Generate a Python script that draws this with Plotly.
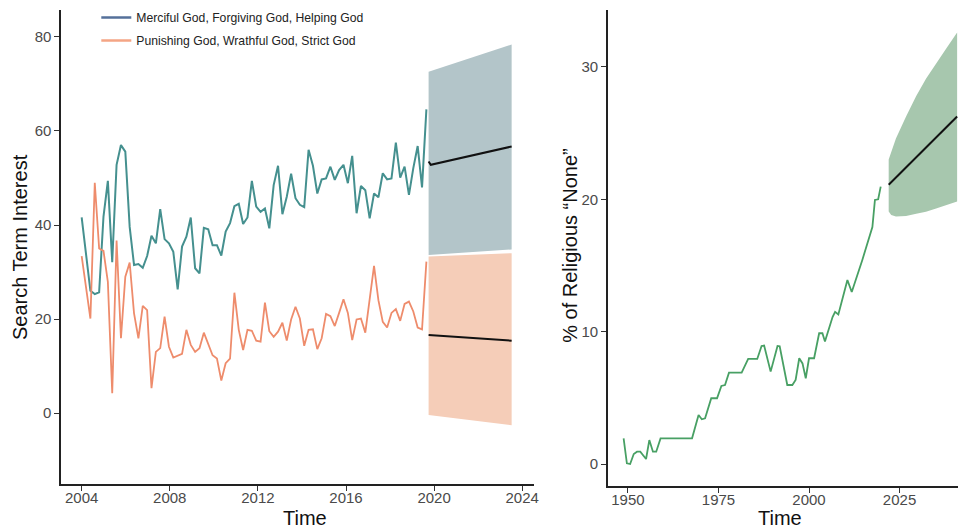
import plotly.graph_objects as go

W, H = 958, 529          # target picture size (layout is expressed in these pixels)
FIG_W = 966              # rendered width (compensates the horizontal squeeze seen in the capture)

# ---------------- Left panel data (search term interest) ----------------
n_pts = 80
step = 15.65 / 79
search_time = [2004 + step * i for i in range(n_pts)]

merciful = [41.6, 34.0, 26.0, 25.3, 25.7, 41.8, 49.4, 32.1, 52.8, 57.0,
            55.6, 39.6, 31.5, 31.7, 30.9, 33.4, 37.7, 36.1, 43.4, 37.0,
            36.1, 34.3, 26.3, 35.4, 37.5, 41.6, 30.8, 29.7, 39.4, 39.1,
            35.7, 35.7, 33.5, 38.6, 40.4, 44.0, 44.5, 40.2, 41.6, 49.4,
            43.9, 42.8, 43.5, 39.3, 48.5, 52.6, 42.3, 46.0, 50.9, 45.7,
            44.3, 43.8, 56.0, 52.6, 46.7, 49.7, 49.9, 52.4, 49.6, 51.7,
            52.8, 48.9, 54.7, 42.5, 48.3, 47.4, 41.4, 46.7, 45.9, 51.0,
            49.7, 49.9, 57.5, 50.1, 52.4, 46.4, 52.1, 56.8, 48.0, 64.6]

punishing = [33.4, 27.0, 20.1, 49.0, 35.0, 34.5, 27.9, 4.2, 36.7, 15.9,
             29.0, 32.0, 21.2, 15.9, 22.8, 21.9, 5.3, 13.0, 13.8, 20.5,
             14.1, 11.8, 12.2, 12.6, 17.7, 14.5, 13.0, 13.8, 17.1, 14.5,
             12.3, 11.6, 6.9, 10.6, 11.6, 25.6, 17.7, 13.4, 17.7, 17.5,
             15.4, 15.2, 23.5, 17.4, 16.2, 17.3, 19.2, 15.4, 19.9, 22.6,
             20.1, 14.3, 17.7, 17.8, 13.6, 15.9, 21.1, 20.6, 18.5, 21.3,
             24.2, 21.3, 15.5, 19.9, 20.1, 17.1, 24.0, 31.3, 24.0, 19.4,
             18.2, 21.3, 22.1, 19.6, 23.2, 23.7, 21.6, 18.2, 17.8, 32.2]

fc_time = [2019.75, 2023.52]
merciful_hi = [72.6, 78.4]
merciful_lo = [33.6, 34.8]
punishing_hi = [33.3, 34.0]
punishing_lo = [-0.4, -2.6]

fc_line_time = [2019.75, 2019.85, 2023.52]
merciful_fc = [53.5, 52.8, 56.7]
punishing_fc_time = [2019.75, 2023.52]
punishing_fc = [16.6, 15.4]

# ---------------- Right panel data (% religious none) ----------------
none_year = [1948.8, 1949.7, 1950.6, 1951.6, 1952.5, 1953.4, 1955.0, 1955.9,
             1956.9, 1957.8, 1959.0, 1967.7, 1969.5, 1970.4, 1971.3, 1973.0,
             1974.6, 1975.8, 1976.8, 1977.9, 1981.4, 1983.2, 1985.7, 1986.9,
             1987.6, 1989.4, 1991.3, 1991.9, 1994.0, 1995.4, 1996.3, 1997.3,
             1998.2, 1999.1, 2000.0, 2001.4, 2002.8, 2003.7, 2004.4, 2006.5,
             2007.2, 2008.1, 2010.6, 2011.8, 2014.7, 2017.5, 2018.2, 2019.1,
             2019.8]
none_pct = [1.94, 0.05, 0.0, 0.76, 0.93, 0.93, 0.38, 1.81,
            0.93, 0.93, 1.94, 1.94, 3.7, 3.38, 3.45, 4.97,
            4.97, 5.9, 5.97, 6.9, 6.9, 7.94, 7.94, 8.92,
            8.95, 6.98, 8.92, 8.9, 5.97, 5.97, 6.35, 7.99,
            7.6, 6.48, 7.99, 7.99, 9.88, 9.88, 9.25, 11.1,
            11.5, 11.3, 13.9, 13.0, 15.4, 17.9, 19.95, 20.0,
            20.96]

none_fc_time = [2022.0, 2022.7, 2024.0, 2026.8, 2029.6, 2032.3, 2035.1, 2037.9, 2040.9]
none_hi = [23.0, 23.6, 24.6, 26.25, 27.8, 29.1, 30.3, 31.4, 32.6]
none_lo = [19.07, 18.82, 18.7, 18.74, 18.9, 19.05, 19.3, 19.55, 19.83]
none_fc_line_time = [2022.0, 2040.9]
none_fc = [21.1, 26.25]

# ---------------- styles ----------------
TEAL = "#45908f"
ORANGE = "#ee8c6c"
TEAL_BAND = "#b3c5c9"
ORANGE_BAND = "#f5cdb8"
GREEN = "#48a064"
GREEN_BAND = "#a7c7ae"
LEG_BLUE = "#55709a"
LEG_ORANGE = "#f4a585"
FONT = "Liberation Sans, Arial, sans-serif"

fig = go.Figure()

# Bands (left)
fig.add_trace(go.Scatter(x=fc_time, y=merciful_lo, mode="lines", line=dict(width=0),
                         showlegend=False, hoverinfo="skip", xaxis="x", yaxis="y"))
fig.add_trace(go.Scatter(x=fc_time, y=merciful_hi, mode="lines", line=dict(width=0),
                         fill="tonexty", fillcolor=TEAL_BAND, showlegend=False,
                         hoverinfo="skip", xaxis="x", yaxis="y"))
fig.add_trace(go.Scatter(x=fc_time, y=punishing_lo, mode="lines", line=dict(width=0),
                         showlegend=False, hoverinfo="skip", xaxis="x", yaxis="y"))
fig.add_trace(go.Scatter(x=fc_time, y=punishing_hi, mode="lines", line=dict(width=0),
                         fill="tonexty", fillcolor=ORANGE_BAND, showlegend=False,
                         hoverinfo="skip", xaxis="x", yaxis="y"))

# Lines (left)
fig.add_trace(go.Scatter(x=search_time, y=merciful, mode="lines",
                         line=dict(color=TEAL, width=2), showlegend=False,
                         xaxis="x", yaxis="y"))
fig.add_trace(go.Scatter(x=search_time, y=punishing, mode="lines",
                         line=dict(color=ORANGE, width=1.8), showlegend=False,
                         xaxis="x", yaxis="y"))
fig.add_trace(go.Scatter(x=fc_line_time, y=merciful_fc, mode="lines",
                         line=dict(color="#111111", width=2), showlegend=False,
                         xaxis="x", yaxis="y"))
fig.add_trace(go.Scatter(x=punishing_fc_time, y=punishing_fc, mode="lines",
                         line=dict(color="#111111", width=2), showlegend=False,
                         xaxis="x", yaxis="y"))

# Legend entries
fig.add_trace(go.Scatter(x=[None], y=[None], mode="lines", name="Merciful God, Forgiving God, Helping God",
                         legendgroup="a", legendrank=1,
                         line=dict(color=LEG_BLUE, width=2.5), xaxis="x", yaxis="y"))
fig.add_trace(go.Scatter(x=[None], y=[None], mode="lines", name="Punishing God, Wrathful God, Strict God",
                         legendgroup="b", legendrank=2,
                         line=dict(color=LEG_ORANGE, width=2.5), xaxis="x", yaxis="y"))

# Right panel
fig.add_trace(go.Scatter(x=none_fc_time, y=none_lo, mode="lines", line=dict(width=0),
                         showlegend=False, hoverinfo="skip", xaxis="x2", yaxis="y2"))
fig.add_trace(go.Scatter(x=none_fc_time, y=none_hi, mode="lines", line=dict(width=0),
                         fill="tonexty", fillcolor=GREEN_BAND, showlegend=False,
                         hoverinfo="skip", xaxis="x2", yaxis="y2"))
fig.add_trace(go.Scatter(x=none_year, y=none_pct, mode="lines",
                         line=dict(color=GREEN, width=1.8), showlegend=False,
                         xaxis="x2", yaxis="y2"))
fig.add_trace(go.Scatter(x=none_fc_line_time, y=none_fc, mode="lines",
                         line=dict(color="#111111", width=2), showlegend=False,
                         xaxis="x2", yaxis="y2"))

ax_common = dict(showgrid=False, zeroline=False, showline=True, linecolor="#222222",
                 linewidth=1.5, ticks="outside", ticklen=5, tickcolor="#333333",
                 tickfont=dict(family=FONT, size=15, color="#4a4a4a"))

y_bot_l = 1 - 484 / H
y_bot_r = 1 - 486 / H
y_top = 1 - 10 / H

fig.update_layout(
    width=FIG_W, height=H,
    margin=dict(l=0, r=0, t=0, b=0),
    paper_bgcolor="white", plot_bgcolor="white",
    font=dict(family=FONT),
    xaxis=dict(domain=[61 / W, 532 / W], range=[2003.07, 2024.52],
               tickvals=[2004, 2008, 2012, 2016, 2020, 2024], anchor="y",
               ticklabelstandoff=-6, **ax_common),
    yaxis=dict(domain=[y_bot_l, y_top], range=[-15.1, 85.74],
               tickvals=[0, 20, 40, 60, 80], anchor="x", **ax_common),
    xaxis2=dict(domain=[606 / W, 1.0], range=[1944.46, 2041.97],
                tickvals=[1950, 1975, 2000, 2025], anchor="y2",
                ticklabelstandoff=-6, **ax_common),
    yaxis2=dict(domain=[y_bot_r, y_top], range=[-1.66, 34.3],
                tickvals=[0, 10, 20, 30], anchor="x2", **ax_common),
    showlegend=True,
    legend=dict(x=96 / W, y=1 - 3 / H, xanchor="left", yanchor="top",
                traceorder="grouped", bgcolor="rgba(0,0,0,0)",
                font=dict(family=FONT, size=12.2, color="#222222"),
                itemwidth=30, tracegroupgap=4),
    annotations=[
        dict(text="Time", x=304 / W, y=1 - 518 / H, xref="paper", yref="paper",
             showarrow=False, font=dict(family=FONT, size=20, color="#111111"),
             xanchor="center", yanchor="middle"),
        dict(text="Time", x=778 / W, y=1 - 518 / H, xref="paper", yref="paper",
             showarrow=False, font=dict(family=FONT, size=20, color="#111111"),
             xanchor="center", yanchor="middle"),
        dict(text="Search Term Interest", x=20 / W, y=1 - 247 / H, xref="paper", yref="paper",
             showarrow=False, textangle=-90, font=dict(family=FONT, size=20, color="#111111"),
             xanchor="center", yanchor="middle"),
        dict(text="% of Religious “None”", x=568 / W, y=1 - 245 / H, xref="paper", yref="paper",
             showarrow=False, textangle=-90, font=dict(family=FONT, size=20, color="#111111"),
             xanchor="center", yanchor="middle"),
    ],
)

fig.write_html("out.html", config={"displayModeBar": False},
               post_script="document.body.style.margin='0';document.body.style.overflow='hidden';")
